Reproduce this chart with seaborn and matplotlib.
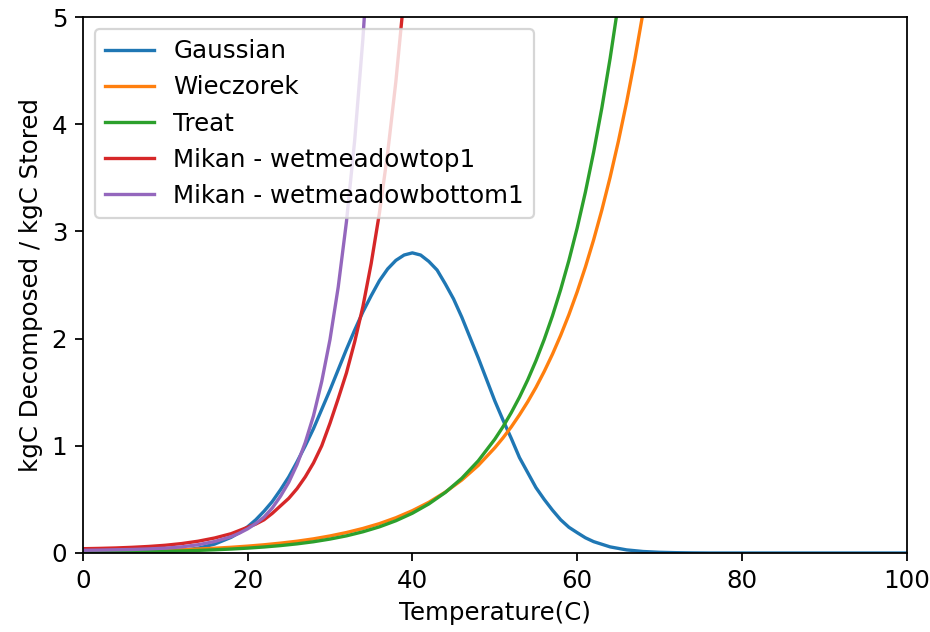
import matplotlib
matplotlib.use("Agg")
import matplotlib.pyplot as plt
import seaborn as sns

plt.rcParams["font.size"] = 11

# temperature grids (C) that the curves were read at
gauss_temp = list(range(0, 19, 2)) + list(range(19, 62)) + list(range(62, 101, 2))
treat_temp = list(range(0, 50, 2)) + list(range(50, 67))
wiec_temp = list(range(0, 50, 2)) + list(range(50, 71))
mikan_temp = list(range(0, 19, 2)) + list(range(19, 41))
mikan_bot_temp = list(range(0, 19, 2)) + list(range(19, 36))

# kgC decomposed / kgC stored
gaussian = [0.0, 0.0, 0.001, 0.002, 0.005, 0.012, 0.024, 0.045, 0.083, 0.146,
            0.19, 0.244, 0.31, 0.39, 0.48, 0.59, 0.71, 0.85, 1.00, 1.16,
            1.34, 1.52, 1.71, 1.90, 2.08, 2.25, 2.40, 2.54, 2.65, 2.73,
            2.78, 2.80, 2.78, 2.72, 2.64, 2.51, 2.37, 2.20, 2.01, 1.82,
            1.62, 1.42, 1.24, 1.07, 0.89, 0.75, 0.61, 0.50, 0.40, 0.31,
            0.24, 0.19, 0.142,
            0.106, 0.057, 0.029, 0.014, 0.0065, 0.003, 0.001,
            0.0, 0.0, 0.0, 0.0, 0.0, 0.0, 0.0, 0.0, 0.0, 0.0, 0.0, 0.0, 0.0]

treat = [0.0056, 0.0069, 0.0085, 0.0104, 0.0129, 0.0159, 0.0196, 0.0242, 0.0299, 0.0368,
         0.0455, 0.0561, 0.0692, 0.0853, 0.105, 0.130, 0.160, 0.198, 0.244, 0.301,
         0.371, 0.458, 0.565, 0.697, 0.860,
         1.061, 1.178, 1.309, 1.454, 1.615, 1.794, 1.992, 2.212, 2.458, 2.730,
         3.032, 3.367, 3.740, 4.154, 4.614, 5.125, 5.69]

wieczorek = [0.0104, 0.0124, 0.0149, 0.0179, 0.0215, 0.0258, 0.0309, 0.0371, 0.0445, 0.0533,
             0.0640, 0.0767, 0.0920, 0.110, 0.132, 0.159, 0.191, 0.229, 0.274, 0.329,
             0.395, 0.473, 0.568, 0.681, 0.817,
             0.981, 1.074, 1.176, 1.289, 1.411, 1.545, 1.693, 1.854, 2.031, 2.224,
             2.436, 2.668, 2.922, 3.201, 3.506, 3.840, 4.205, 4.606, 5.045, 5.526, 6.05]

mikan_top = [0.040, 0.043, 0.047, 0.053, 0.061, 0.072, 0.088, 0.11, 0.14, 0.18,
             0.21, 0.24, 0.27, 0.31, 0.37, 0.44, 0.51, 0.60, 0.71, 0.84,
             1.00, 1.21, 1.44, 1.68, 1.97, 2.30, 2.70, 3.17, 3.73, 4.40, 5.20, 6.15]

mikan_bottom = [0.025, 0.027, 0.030, 0.033, 0.038, 0.045, 0.057, 0.077, 0.107, 0.152,
                0.185, 0.225, 0.275, 0.335, 0.42, 0.53, 0.66, 0.825, 1.03, 1.28,
                1.60, 1.99, 2.48, 3.09, 3.85, 4.80, 5.98]

colors = sns.color_palette("tab10")

fig, ax = plt.subplots(figsize=(5.8125, 3.95), dpi=160)
fig.subplots_adjust(left=0.089, right=0.975, top=0.973, bottom=0.125)

sns.lineplot(x=gauss_temp, y=gaussian, color=colors[0], label="Gaussian", ax=ax)
sns.lineplot(x=wiec_temp, y=wieczorek, color=colors[1], label="Wieczorek", ax=ax)
sns.lineplot(x=treat_temp, y=treat, color=colors[2], label="Treat", ax=ax)
sns.lineplot(x=mikan_temp, y=mikan_top, color=colors[3], label="Mikan - wetmeadowtop1", ax=ax)
sns.lineplot(x=mikan_bot_temp, y=mikan_bottom, color=colors[4], label="Mikan - wetmeadowbottom1", ax=ax)

ax.set_xlim(0, 100)
ax.set_ylim(0, 5)
ax.set_xlabel("Temperature(C)")
ax.set_ylabel("kgC Decomposed / kgC Stored")
ax.legend(loc="upper left")

fig.savefig("out.png", dpi=160)
